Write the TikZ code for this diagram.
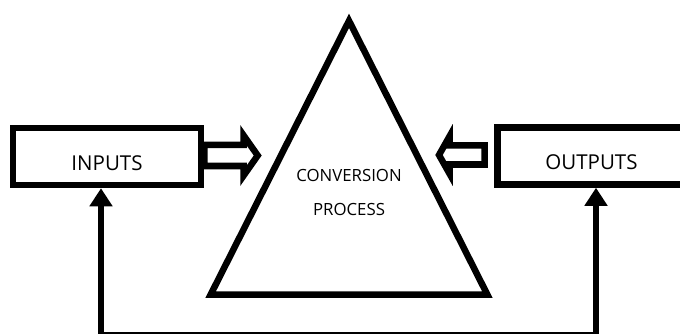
\documentclass[tikz,border=0pt]{standalone}
\usepackage{fontspec}
\setmainfont{Open Sans}
\usetikzlibrary{arrows.meta}
\begin{document}
\begin{tikzpicture}[x=1pt,y=-1pt,
  heavy/.style={line width=6.5pt, line join=miter},
  ioBox/.style={draw, heavy, fill=white, minimum width=188pt, minimum height=57pt, inner sep=0pt},
  ioText/.style={inner sep=0pt, font=\fontsize{20.5}{20.5}\selectfont},
  coreText/.style={inner sep=0pt, font=\fontsize{16.8}{16.8}\selectfont},
  hollow/.style={draw, heavy, fill=white},
  feedback/.style={heavy, {Triangle[length=18pt,width=22pt]}-{Triangle[length=18pt,width=22pt]}}
]
\useasboundingbox (0,0) rectangle (680,334);

% conversion triangle
\coordinate (apex) at (349,20.8);
\coordinate (baseR) at (487.3,294.5);
\coordinate (baseL) at (210.7,294.5);
\draw[heavy] (apex) -- (baseR) -- (baseL) -- cycle;
\node[coreText] (conv) at (349,175) {CONVERSION};
\node[coreText] (proc) at (349,209.5) {PROCESS};

% input and output boxes
\node[ioBox] (in) at (107,156.5) {};
\node[ioText] (inLbl) at ([yshift=-6.5pt]in.center) {INPUTS};
\node[ioBox] (out) at (591.5,156) {};
\node[ioText] (outLbl) at ([yshift=-6pt]out.center) {OUTPUTS};

% hollow block arrows towards the process
\draw[hollow] (in.east |- 0,145) -- (243.5,145) -- (243.5,135.3) -- (257.7,155.5)
  -- (243.5,175.7) -- (243.5,166) -- (in.east |- 0,166) -- cycle;
\draw[hollow] (484.5,145.5) -- (449.5,145.5) -- (449.5,136.4) -- (439,155)
  -- (449.5,173.6) -- (449.5,164.5) -- (484.5,164.5) -- cycle;

% feedback loop along the bottom
\coordinate (fbL) at (101,335);
\coordinate (fbR) at (596,335);
\draw[feedback] (fbL |- in.south) -- (fbL) -- (fbR) -- (fbR |- out.south);
\end{tikzpicture}
\end{document}
